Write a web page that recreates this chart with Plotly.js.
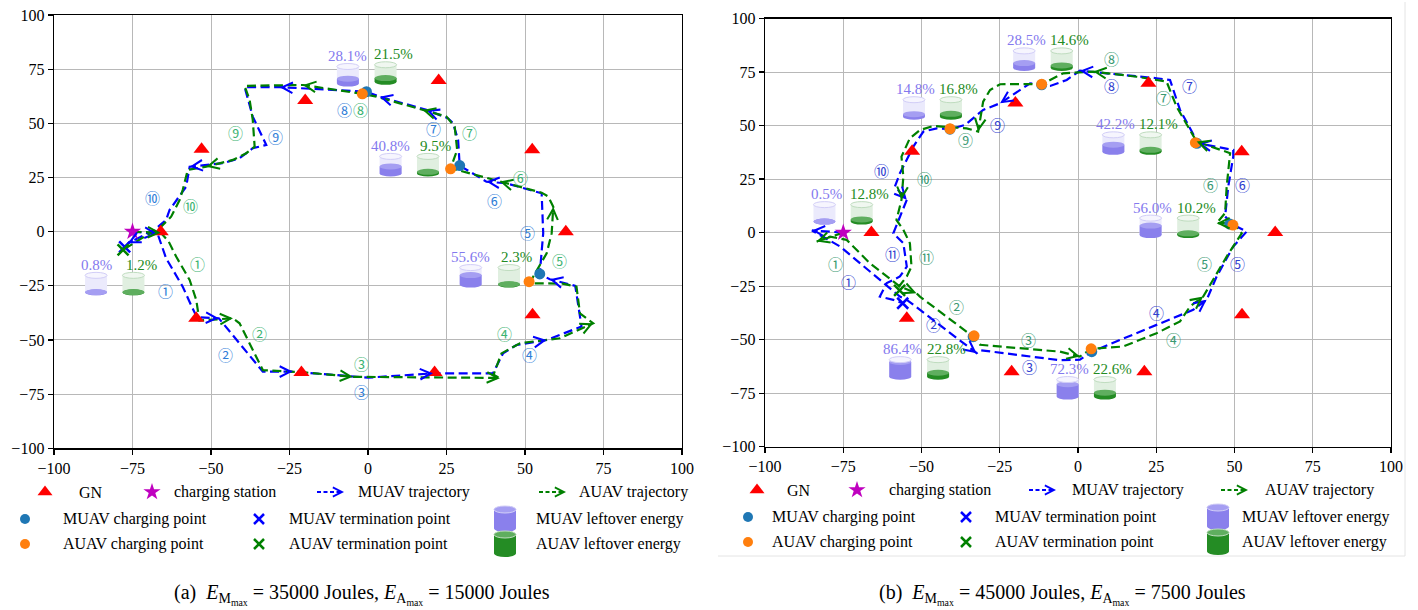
<!DOCTYPE html>
<html><head><meta charset="utf-8">
<script src="https://cdn.plot.ly/plotly-3.0.1.min.js"></script>
<style>html,body{margin:0;padding:0;background:#fff}#chart{width:1418px;height:610px}</style>
</head><body><div id="chart"></div><script>
// ---------------- DATA ----------------
const tickVals = [-100, -75, -50, -25, 0, 25, 50, 75, 100];
const circled = ['①','②','③','④','⑤','⑥','⑦','⑧','⑨','⑩','⑪'];

const gnX = [-66, -53, -20, 22.5, 52.3, 63, 52.4, 21.2, -21.2, -54.7];
const gnY = [0, 38, 60.5, 69.8, 37.8, 0, -38.4, -65, -65, -40];
const stationX = [-75];
const stationY = [0];

// (a) MUAV trajectory
const aMuX = [-75,-67,-64.3,-59,-56,-54.5,-47.5,-33.5,-24,0,20.7,39.8,43,47.3,56.9,68,66,57.9,54.7,55.8,55.3,44.1,37.7,29.2,28.7,27.1,25.5,18.6,3.7,-0.5,-28.1,-39.3,-36.7,-32.4,-36.7,-40.9,-46.2,-56.8,-57.9,-63.2,-64.3,-68,-76.5];
const aMuY = [0,-1,-12.3,-25.4,-35,-39.5,-40,-64.6,-64.6,-67.4,-65.4,-65.4,-56.2,-52.3,-50,-43.8,-25,-22,-19.5,-0.7,17.7,22.3,23.1,30.5,42.3,50,52.3,56.2,62.3,64.6,66.7,66.7,53.1,40,38.5,33.9,31.6,30,20.8,10,5.4,0.8,-5.4];
const aMuArrows = [1,6,8,10,14,17,22,27,28,30,37,42];
// (a) AUAV trajectory
const aAuX = [-75,-66,-63.5,-61.1,-56.8,-54.7,-53.7,-43,-40.9,-33.5,-20,-4.8,40,42,40,42.5,48.4,61.1,71.7,67.5,66.4,62,51.5,52.6,56.9,58.5,59,57.4,55.3,42,26.3,28.4,27.6,25,17.4,2.7,-1.8,-20.7,-39.3,-37.7,-36.7,-36.1,-38.8,-43,-51.5,-57.4,-59,-60,-62.7,-66.4,-72,-78];
const aAuY = [0,-0.5,-4.5,-11.5,-22.3,-31.5,-41,-40,-42.3,-63.9,-65,-67,-67.5,-67.7,-66,-56.2,-51.5,-49.2,-42.3,-37.7,-25.4,-24,-23.8,-20.8,-10,-0.7,11.5,16.2,18,23.1,29.3,37.7,48.5,53.1,56.2,62.3,63.6,67.7,67.3,60.8,51.6,39.2,36.2,33.1,30,28.5,19.3,14.6,6.9,1.6,-3,-8.4];
const aAuArrows = [1,7,11,13,18,26,29,34,37,44];
const aMuChargeX = [54.7, 29.2, -0.5], aMuChargeY = [-19.5, 30.5, 64.6];
const aAuChargeX = [51.3, 26.3, -1.8], aAuChargeY = [-23.1, 29, 63.6];
const aMuEndX = [-77.5], aMuEndY = [-7];
const aAuEndX = [-78], aAuEndY = [-8.4];
const aMuLabX = [-64.5,-45.5,-2.1,51.5,50.7,40.4,20.7,-7.4,-29.4,-68.7];
const aMuLabY = [-27.2,-56.9,-73.9,-56.9,-0.3,14.3,47.5,56.2,43.9,15.9];
const aAuLabX = [-54.2,-34.5,-2.1,43.6,61.1,48.7,32.4,-2.4,-42.3,-56.6];
const aAuLabY = [-14.9,-47.2,-60.8,-47.2,-13.4,24.9,45.9,56.2,45.7,12.3];
const aMuBatX = [-6.4, 7.2, 32.7, -86.6], aMuBatY = [72.3, 30.8, -20.5, -24.1];
const aMuPct = [28.1, 40.8, 55.6, 0.8];
const aAuBatX = [5.6, 19.1, 44.9, -74.7], aAuBatY = [73.1, 30.8, -20.5, -24.1];
const aAuPct = [21.5, 9.5, 2.3, 1.2];

// (b) MUAV trajectory
const bMuX = [-75,-85,-76,-69.6,-63.3,-56.9,-54.7,-32.4,-31.3,-5.8,0.6,4.4,25.1,36.8,41.1,44.3,49.6,53.9,49.6,47,48,49.6,49.6,38.4,32.6,29.4,25.1,8.6,0.6,-3.6,-8.9,-11.6,-15.3,-24.9,-30.3,-36.1,-40.9,-45.1,-49.4,-52.6,-56.9,-58.5,-54.7,-59,-55.8,-54.7,-56.9,-61.1,-63.3,-59,-56];
const bMuY = [0,1,-6.5,-14.3,-22.1,-29.9,-31.4,-56.3,-54.9,-59.6,-59.4,-55.6,-43.1,-36.1,-31.4,-20.5,-6.5,0.5,3.6,7.5,21.5,35.5,38.6,41.7,57.3,71.3,72.1,74.5,75.6,71.3,68.5,69,69.7,60.4,57.3,50.3,48.3,48.7,47.2,40.2,27.7,21.5,15.3,-0.3,-5,-15.9,-20.5,-23.6,-29.9,-31.4,-33];
const bMuArrows = [1,7,14,23,28,33,42];
// (b) AUAV trajectory
const bAuX = [-75,-83.5,-79.2,-73.9,-66.5,-56.9,-51.6,-50.5,-33.5,-31.3,-5.8,0.6,4.2,14.5,25.1,32.6,35.8,40,43.2,47.5,52.3,49.6,44.3,47,47.5,48.6,37.9,31.5,28.3,18.8,4.9,-4.7,-8.9,-11.6,-15.3,-24.9,-28.1,-30.3,-31.9,-35.6,-46.2,-50.5,-53.7,-56.4,-55.8,-56.4,-58,-55.8,-53.7,-53.2,-54.7,-58];
const bAuY = [0,-4.2,-1.9,-3.4,-14.3,-25.2,-28.3,-29.9,-48.6,-52.4,-55.6,-57.9,-54.3,-53.2,-47,-41.5,-34.5,-29.9,-22.1,-11.2,-0.3,4.4,4.4,9.1,21.5,37.1,42.5,58.8,70.5,72.8,75.2,74.4,71.3,69,69.4,69.3,66.6,61.2,47.2,48.7,49.8,47.9,44.1,35.5,26.1,15.3,5.9,1.3,-5,-15.9,-20.5,-26.7];
const bAuArrows = [1,6,11,17,22,26,30,38,45];
const bMuChargeX = [-33.5, 4.4, 48.5, 38, -11.6, -40.9], bMuChargeY = [-48.6, -55.6, 4, 41.7, 69, 48.3];
const bAuChargeX = [-33.2, 4.2, 49.5, 37.5, -11.6, -40.9], bAuChargeY = [-48.2, -54.3, 3.5, 42, 69.3, 48.5];
const bMuEndX = [-56], bMuEndY = [-33];
const bAuEndX = [-57], bAuEndY = [-27];
const bMuLabX = [-73.4,-46.2,-15.6,25.1,50.9,52.6,35.6,10.8,-25.8,-62.7,-59.2];
const bMuLabY = [-23,-43.1,-62.6,-37.3,-14.3,22.3,68.6,68.6,50.3,28.9,-9.6];
const bAuLabX = [-77.6,-38.8,-15.9,30.4,40.4,42.4,27.3,10.8,-36.1,-48.9,-48.3];
const bAuLabY = [-14.3,-34.5,-49.8,-49.8,-14.3,22.3,63,81.4,43.3,25.1,-11.2];
const bMuBatX = [-81, -52.4, -17.2, 11.3, 23.2, -56.8, -3.3];
const bMuBatY = [9.1, 58.1, 80.9, 41.7, 2.8, -63.3, -72.6];
const bMuPct = [0.5, 14.8, 28.5, 42.2, 56.0, 86.4, 72.3];
const bAuBatX = [-69.1, -40.6, -5.2, 23.2, 35.2, -44.7, 8.6];
const bAuBatY = [9.1, 58.1, 80.9, 41.7, 2.8, -63.3, -72.6];
const bAuPct = [12.8, 16.8, 14.6, 12.1, 10.2, 22.8, 22.6];

const legendRow1 = ['GN', 'charging station', 'MUAV trajectory', 'AUAV trajectory'];
const legendRowM = ['MUAV charging point', 'MUAV termination point', 'MUAV leftover energy'];
const legendRowA = ['AUAV charging point', 'AUAV termination point', 'AUAV leftover energy'];
const captionA = '(a)  <i>E</i><sub>M<sub>max</sub></sub> = 35000 Joules, <i>E</i><sub>A<sub>max</sub></sub> = 15000 Joules';
const captionB = '(b)  <i>E</i><sub>M<sub>max</sub></sub> = 45000 Joules, <i>E</i><sub>A<sub>max</sub></sub> = 7500 Joules';

// ---------------- LAYOUT / STYLE ----------------
const W = 1418, H = 610;
const SERIF = '"Liberation Serif", "Times New Roman", serif';
const CJK = '"Noto Sans CJK SC", "Noto Sans CJK JP", "DejaVu Sans", sans-serif';
const boxA = {l:54, r:682, t:15, b:448.3};
const boxB = {l:765, r:1391, t:18.5, b:446.7};
const scale = b => ({sx:(b.r-b.l)/200, sy:(b.b-b.t)/200});
const sA = scale(boxA), sB = scale(boxB);

const PAL = {
  mu:{dark:'#8a80ec', mid:'#a59ef2', light:'#ebeafc', top:'#f6f5fe', edge:'#d2cef7', label:'#8379ee', line:'#0000ff', charge:'#1f77b4', end:'#0000ff'},
  au:{dark:'#248c24', mid:'#5fae5f', light:'#e0efe0', top:'#f0f7f0', edge:'#bfdcbf', label:'#238b23', line:'#008000', charge:'#ff7f0e', end:'#008000'}
};

const data = [];
const shapes = [];
const annotations = [];

function cylinder(xref, yref, cx, cy, pct, c, sx, sy, Wp, Hp, Ep, topColor){
  const hw = Wp/2/sx, yb = cy - (Hp/2)/sy, yt = cy + (Hp/2)/sy, eh = (Ep/2)/sy;
  const yf = yb + (yt - yb)*pct/100;
  const base = {xref, yref, layer:'above'};
  shapes.push({...base, type:'rect', x0:cx-hw, x1:cx+hw, y0:yb, y1:yt, fillcolor:c.light, line:{width:0}});
  shapes.push({...base, type:'circle', x0:cx-hw, x1:cx+hw, y0:yb-eh, y1:yb+eh, fillcolor:c.dark, line:{width:0}});
  if (pct > 0) {
    shapes.push({...base, type:'rect', x0:cx-hw, x1:cx+hw, y0:yb, y1:yf, fillcolor:c.dark, line:{width:0}});
    shapes.push({...base, type:'circle', x0:cx-hw, x1:cx+hw, y0:yf-eh, y1:yf+eh, fillcolor:c.mid, line:{width:0}});
  }
  shapes.push({...base, type:'circle', x0:cx-hw, x1:cx+hw, y0:yt-eh, y1:yt+eh, fillcolor:topColor || c.top, line:{width:1, color:c.edge}});
}

function arrows(xs, ys, idxs, color, xref, yref, s){
  idxs.forEach(i => {
    const dx = (xs[i]-xs[i-1])*s.sx, dy = -(ys[i]-ys[i-1])*s.sy;
    const L = Math.hypot(dx, dy) || 1;
    annotations.push({x:xs[i], y:ys[i], xref, yref, ax:-dx/L*7, ay:-dy/L*7, text:'', showarrow:true,
      arrowhead:5, arrowsize:1.1, arrowwidth:1.9, arrowcolor:color, standoff:0});
  });
}

function panel(xa, ya, s, P){
  const xr = xa, yr = ya;
  const common = {xaxis:xa, yaxis:ya, hoverinfo:'skip', showlegend:false};
  data.push({...common, type:'scatter', mode:'lines', x:P.muX, y:P.muY, line:{color:PAL.mu.line, width:2.2, dash:'9px,4.5px'}});
  data.push({...common, type:'scatter', mode:'lines', x:P.auX, y:P.auY, line:{color:PAL.au.line, width:2.2, dash:'9px,4.5px'}});
  data.push({...common, type:'scatter', mode:'markers', x:gnX, y:gnY, marker:{symbol:'triangle-up', size:14, color:'#ff0000'}});
  data.push({...common, type:'scatter', mode:'markers', x:stationX, y:stationY, marker:{symbol:'star', size:13, color:'#bf00bf'}});
  data.push({...common, type:'scatter', mode:'markers', x:P.muCX, y:P.muCY, marker:{symbol:'circle', size:11, color:PAL.mu.charge}});
  data.push({...common, type:'scatter', mode:'markers', x:P.auCX, y:P.auCY, marker:{symbol:'circle', size:11, color:PAL.au.charge}});
  data.push({...common, type:'scatter', mode:'markers', x:P.muEX, y:P.muEY, marker:{symbol:'x-thin-open', size:11, color:PAL.mu.end, line:{width:2.5, color:PAL.mu.end}}});
  data.push({...common, type:'scatter', mode:'markers', x:P.auEX, y:P.auEY, marker:{symbol:'x-thin-open', size:11, color:PAL.au.end, line:{width:2.5, color:PAL.au.end}}});
  arrows(P.muX, P.muY, P.muArr, PAL.mu.line, xr, yr, s);
  arrows(P.auX, P.auY, P.auArr, PAL.au.line, xr, yr, s);
  P.muLX.forEach((x, i) => annotations.push({x, y:P.muLY[i], xref:xr, yref:yr, text:circled[i], showarrow:false, font:{family:CJK, size:15, color:P.muNumColor}}));
  P.auLX.forEach((x, i) => annotations.push({x, y:P.auLY[i], xref:xr, yref:yr, text:circled[i], showarrow:false, font:{family:CJK, size:15, color:P.auNumColor}}));
  P.muBX.forEach((x, i) => {
    cylinder(xr, yr, x, P.muBY[i], P.muPct[i], PAL.mu, s.sx, s.sy, 22, 17, 6);
    annotations.push({x, y:P.muBY[i], xref:xr, yref:yr, yshift:19, xshift:P.muShift, text:P.muPct[i].toFixed(1)+'%', showarrow:false, font:{family:SERIF, size:15, color:PAL.mu.label}});
  });
  P.auBX.forEach((x, i) => {
    cylinder(xr, yr, x, P.auBY[i], P.auPct[i], PAL.au, s.sx, s.sy, 22, 17, 6);
    annotations.push({x, y:P.auBY[i], xref:xr, yref:yr, yshift:19, xshift:P.auShift, text:P.auPct[i].toFixed(1)+'%', showarrow:false, font:{family:SERIF, size:15, color:PAL.au.label}});
  });
}

panel('x', 'y', sA, {muX:aMuX, muY:aMuY, auX:aAuX, auY:aAuY, muArr:aMuArrows, auArr:aAuArrows,
  muCX:aMuChargeX, muCY:aMuChargeY, auCX:aAuChargeX, auCY:aAuChargeY, muEX:aMuEndX, muEY:aMuEndY, auEX:aAuEndX, auEY:aAuEndY,
  muLX:aMuLabX, muLY:aMuLabY, auLX:aAuLabX, auLY:aAuLabY, muNumColor:'#2f7ed8', auNumColor:'#3cb371',
  muBX:aMuBatX, muBY:aMuBatY, muPct:aMuPct, auBX:aAuBatX, auBY:aAuBatY, auPct:aAuPct, muShift:0, auShift:8});
panel('x2', 'y2', sB, {muX:bMuX, muY:bMuY, auX:bAuX, auY:bAuY, muArr:bMuArrows, auArr:bAuArrows,
  muCX:bMuChargeX, muCY:bMuChargeY, auCX:bAuChargeX, auCY:bAuChargeY, muEX:bMuEndX, muEY:bMuEndY, auEX:bAuEndX, auEY:bAuEndY,
  muLX:bMuLabX, muLY:bMuLabY, auLX:bAuLabX, auLY:bAuLabY, muNumColor:'#3040d0', auNumColor:'#3a9a72',
  muBX:bMuBatX, muBY:bMuBatY, muPct:bMuPct, auBX:bAuBatX, auBY:bAuBatY, auPct:bAuPct, muShift:2, auShift:8});

// ---------------- LEGENDS (overlay pixel axis x3/y3) ----------------
const legA = {row1Y:492, rowY:[519,544], r1Sym:[45,152,331,553], r1Txt:[77,172,356,577], symX:[25,259,505], txtX:[61,287,534]};
const legB = {row1Y:490, rowY:[517,542], r1Sym:[757,857,1043,1235], r1Txt:[785,887,1070,1263], symX:[748,966,1218], txtX:[770,993,1240]};
function legend(L){
  const c = {xaxis:'x3', yaxis:'y3', hoverinfo:'skip', showlegend:false, type:'scatter', mode:'markers'};
  data.push({...c, x:[L.r1Sym[0]], y:[L.row1Y], marker:{symbol:'triangle-up', size:13, color:'#ff0000'}});
  data.push({...c, x:[L.r1Sym[1]], y:[L.row1Y], marker:{symbol:'star', size:13, color:'#bf00bf'}});
  [PAL.mu, PAL.au].forEach((p, k) => {
    const sx = L.r1Sym[2+k];
    shapes.push({type:'line', xref:'x3', yref:'y3', x0:sx-14, x1:sx+8, y0:L.row1Y, y1:L.row1Y, line:{color:p.line, width:2, dash:'4px,2.5px'}});
    annotations.push({x:sx+13, y:L.row1Y, xref:'x3', yref:'y3', ax:-7, ay:0, text:'', showarrow:true, arrowhead:5, arrowsize:1.0, arrowwidth:1.8, arrowcolor:p.line, standoff:0});
  });
  legendRow1.forEach((t, i) => annotations.push({x:L.r1Txt[i], y:L.row1Y, xref:'x3', yref:'y3', xanchor:'left', yanchor:'middle', text:t, showarrow:false, font:{family:SERIF, size:16, color:'#000'}}));
  [PAL.mu, PAL.au].forEach((p, k) => {
    const y = L.rowY[k];
    data.push({...c, x:[L.symX[0]], y:[y], marker:{symbol:'circle', size:10, color:p.charge}});
    data.push({...c, x:[L.symX[1]], y:[y], marker:{symbol:'x-thin-open', size:10, color:p.end, line:{width:2.5, color:p.end}}});
    cylinder('x3', 'y3', L.symX[2], y, 100, p, 1, -1, 22, 19, 7, p.mid);
    (k === 0 ? legendRowM : legendRowA).forEach((t, i) => annotations.push({x:L.txtX[i], y, xref:'x3', yref:'y3', xanchor:'left', yanchor:'middle', text:t, showarrow:false, font:{family:SERIF, size:16, color:'#000'}}));
  });
}
legend(legA);
legend(legB);
// frame of panel (b)
shapes.push({type:'line', xref:'x3', yref:'y3', x0:1405, x1:1405, y0:2, y1:556, line:{color:'#e4e4e4', width:1}});
shapes.push({type:'line', xref:'x3', yref:'y3', x0:718, x1:1405, y0:556, y1:556, line:{color:'#e4e4e4', width:1}});
annotations.push({x:362, y:594, xref:'x3', yref:'y3', text:captionA, showarrow:false, font:{family:SERIF, size:20, color:'#000'}});
annotations.push({x:1062, y:594, xref:'x3', yref:'y3', text:captionB, showarrow:false, font:{family:SERIF, size:20, color:'#000'}});

function axis(domain){
  return {domain, range:[-100,100], tickvals:tickVals, ticktext:tickVals.map(v => v < 0 ? '\u2212'+Math.abs(v) : String(v)),
    showgrid:true, gridcolor:'#b8b8b8', gridwidth:1, zeroline:false, showline:true, linecolor:'#000', linewidth:1.4, mirror:true,
    ticks:'outside', ticklen:5, tickwidth:1.2, tickcolor:'#000', tickfont:{family:SERIF, size:16, color:'#000'}, fixedrange:true};
}
const layout = {
  width:W, height:H, margin:{l:0, r:0, t:0, b:0}, paper_bgcolor:'#fff', plot_bgcolor:'rgba(0,0,0,0)', showlegend:false,
  font:{family:SERIF},
  xaxis:{...axis([boxA.l/W, boxA.r/W]), anchor:'y'},
  yaxis:{...axis([1-boxA.b/H, 1-boxA.t/H]), anchor:'x'},
  xaxis2:{...axis([boxB.l/W, boxB.r/W]), anchor:'y2'},
  yaxis2:{...axis([1-boxB.b/H, 1-boxB.t/H]), anchor:'x2'},
  xaxis3:{domain:[0,1], range:[0,W], visible:false, fixedrange:true, anchor:'y3'},
  yaxis3:{domain:[0,1], range:[H,0], visible:false, fixedrange:true, anchor:'x3'},
  shapes, annotations
};
Plotly.newPlot('chart', data, layout, {staticPlot:true});
</script></body></html>
